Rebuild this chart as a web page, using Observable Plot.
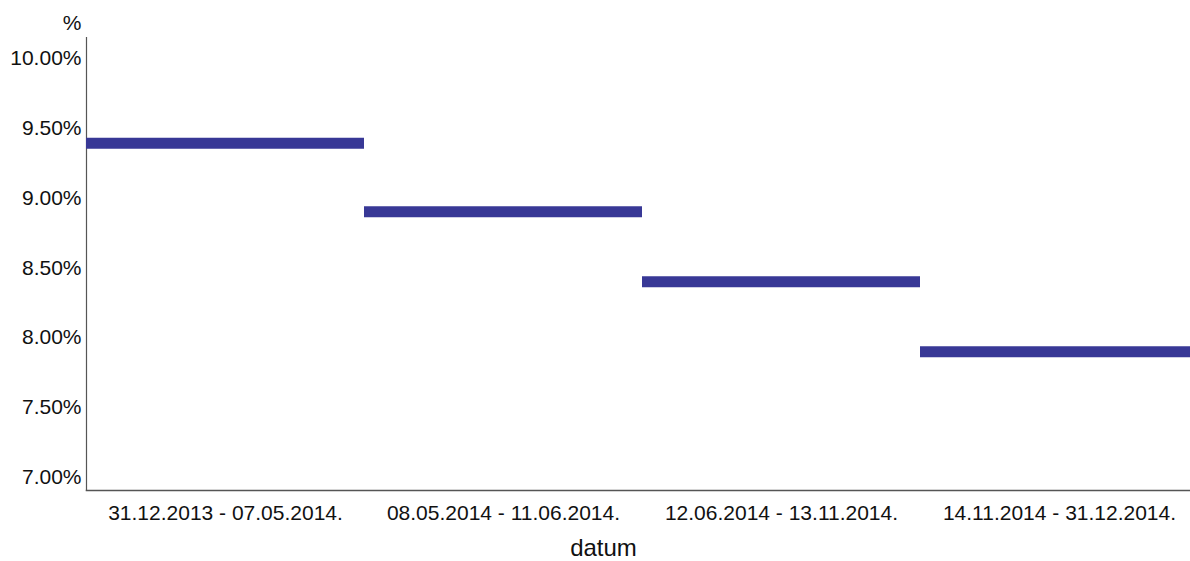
<!DOCTYPE html>
<html>
<head>
<meta charset="utf-8">
<script src="https://cdn.jsdelivr.net/npm/d3@7"></script>
<script src="https://cdn.jsdelivr.net/npm/@observablehq/plot@0.6"></script>
<style>
  html, body { margin: 0; padding: 0; background: white; overflow: hidden; }
</style>
</head>
<body>
<div id="chart"></div>
<script>
const periods = [
  "31.12.2013 - 07.05.2014.",
  "08.05.2014 - 11.06.2014.",
  "12.06.2014 - 13.11.2014.",
  "14.11.2014 - 31.12.2014."
];
const rates = [9.39, 8.90, 8.40, 7.90];
const yTicks = [7.0, 7.5, 8.0, 8.5, 9.0, 9.5, 10.0];
const yLabel = "%";
const xLabel = "datum";

const data = periods.map((p, i) => ({period: p, rate: rates[i]}));

const chart = Plot.plot({
  width: 1190,
  height: 561,
  marginLeft: 86,
  marginRight: 0,
  marginTop: 37,
  marginBottom: 71,
  style: {fontFamily: "'Liberation Sans', Arial, sans-serif", fontSize: "21px", background: "white", color: "#111"},
  x: {type: "band", domain: periods, padding: 0, range: [86, 1198], axis: null},
  y: {domain: [6.907, 10.147], axis: null},
  marks: [
    Plot.axisY({ticks: yTicks, tickFormat: d => d.toFixed(2) + "%", tickSize: 0, tickPadding: 5, label: null, fontSize: 21}),
    Plot.axisX({tickSize: 0, tickPadding: 15, label: null, fontSize: 21}),
    Plot.frame({anchor: "left", stroke: "#555", strokeWidth: 1.2}),
    Plot.frame({anchor: "bottom", stroke: "#555", strokeWidth: 1.5}),
    Plot.tickY(data, {x: "period", y: "rate", stroke: "#383896", strokeWidth: 11}),
    Plot.text([yLabel], {frameAnchor: "top-left", text: d => d, textAnchor: "end", lineAnchor: "middle", dx: -5, dy: -14, fontSize: 21}),
    Plot.text([xLabel], {frameAnchor: "bottom", text: d => d, textAnchor: "middle", lineAnchor: "middle", dx: -35, dy: 58, fontSize: 24})
  ]
});
document.getElementById("chart").appendChild(chart);
</script>
</body>
</html>
